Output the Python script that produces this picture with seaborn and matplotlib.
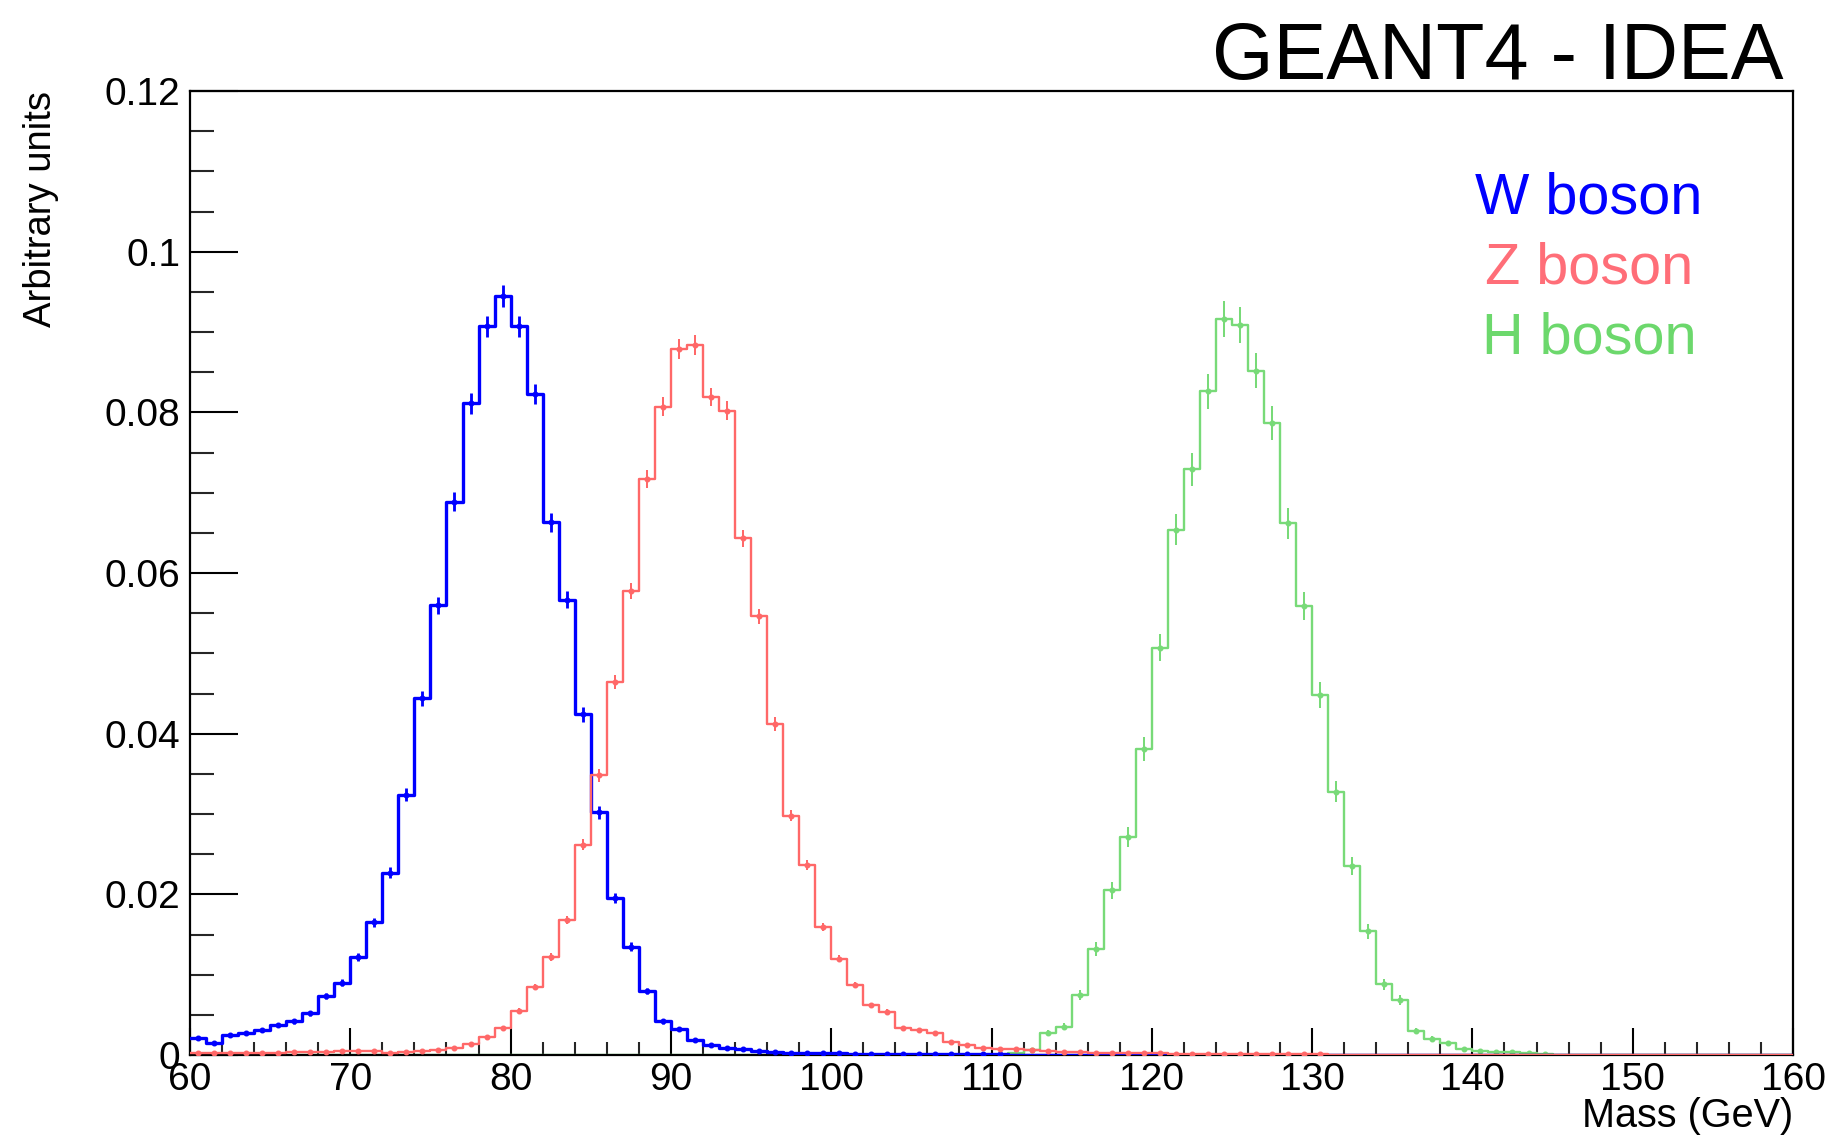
import numpy as np
import pandas as pd
import matplotlib
matplotlib.use("Agg")
import matplotlib.pyplot as plt
import seaborn as sns
from matplotlib.ticker import MultipleLocator, FixedLocator, FixedFormatter

# ---------------- data (1 GeV bins, lower edges 60..159) ----------------
BIN_LOW = list(range(60, 160))

W_VALUES = [0.0021, 0.0015, 0.0025, 0.0027, 0.0031, 0.0037, 0.0042, 0.0052, 0.0073, 0.0090,
            0.0122, 0.0165, 0.0227, 0.0324, 0.0444, 0.0560, 0.0689, 0.0811, 0.0907, 0.0945,
            0.0907, 0.0823, 0.0663, 0.0567, 0.0424, 0.0302, 0.0195, 0.0135, 0.0080, 0.0042,
            0.0032, 0.0019, 0.0012, 0.0009, 0.0007, 0.0005, 0.0004, 0.0003, 0.0003, 0.0002,
            0.0002, 0.0001, 0.0001, 0.0001, 0.0001, 0.0001, 0.0001, 0.0001, 0.0001, 0.0001,
            0.0001, 0, 0, 0, 0, 0, 0, 0, 0, 0,
            0, 0, 0, 0, 0, 0, 0, 0, 0, 0,
            0, 0, 0, 0, 0, 0, 0, 0, 0, 0,
            0, 0, 0, 0, 0, 0, 0, 0, 0, 0,
            0, 0, 0, 0, 0, 0, 0, 0, 0, 0]

Z_VALUES = [0.0003, 0.0003, 0.0003, 0.0003, 0.0003, 0.0003, 0.0004, 0.0004, 0.0004, 0.0005,
            0.0005, 0.0005, 0.0003, 0.0004, 0.0005, 0.0006, 0.0009, 0.0014, 0.0022, 0.0033,
            0.0055, 0.0085, 0.0122, 0.0168, 0.0262, 0.0348, 0.0464, 0.0578, 0.0717, 0.0807,
            0.0879, 0.0884, 0.0819, 0.0802, 0.0643, 0.0546, 0.0412, 0.0298, 0.0237, 0.0159,
            0.0120, 0.0087, 0.0062, 0.0054, 0.0034, 0.0031, 0.0027, 0.0016, 0.0012, 0.0009,
            0.0008, 0.0007, 0.0006, 0.0005, 0.0004, 0.0004, 0.0003, 0.0003, 0.0002, 0.0002,
            0.0002, 0.0001, 0.0001, 0.0001, 0.0001, 0.0001, 0.0001, 0.0001, 0.0001, 0.0001,
            0.0001, 0, 0, 0, 0, 0, 0, 0, 0, 0,
            0, 0, 0, 0, 0, 0, 0, 0, 0, 0,
            0, 0, 0, 0, 0, 0, 0, 0, 0, 0]

H_VALUES = [0, 0, 0, 0, 0, 0, 0, 0, 0, 0,
            0, 0, 0, 0, 0, 0, 0, 0, 0, 0,
            0, 0, 0, 0, 0, 0, 0, 0, 0, 0,
            0, 0, 0, 0, 0, 0, 0, 0, 0, 0,
            0, 0, 0, 0, 0, 0, 0, 0, 0, 0,
            0, 0.0003, 0.0006, 0.0027, 0.0035, 0.0075, 0.0132, 0.0205, 0.0271, 0.0381,
            0.0507, 0.0654, 0.0729, 0.0826, 0.0916, 0.0909, 0.0852, 0.0787, 0.0662, 0.0559,
            0.0448, 0.0328, 0.0235, 0.0154, 0.0088, 0.0068, 0.0030, 0.0020, 0.0015, 0.0007,
            0.0005, 0.0004, 0.0004, 0.0002, 0.0001, 0, 0, 0, 0, 0,
            0, 0, 0, 0, 0, 0, 0, 0, 0, 0]

# effective event counts (sets the size of the Poisson error bars)
N_EVENTS = {"W boson": 50000, "Z boson": 60000, "H boson": 18000}

LABELS = ["W boson", "Z boson", "H boson"]
XTICKS = [60, 70, 80, 90, 100, 110, 120, 130, 140, 150, 160]
YTICKS = [0, 0.02, 0.04, 0.06, 0.08, 0.10, 0.12]
YTICK_LABELS = ["0", "0.02", "0.04", "0.06", "0.08", "0.1", "0.12"]

# ---------------- figure ----------------
sns.set_theme(style="white")
plt.rcParams["font.family"] = ["Liberation Sans", "DejaVu Sans"]

W_PX, H_PX = 1832, 1138
fig = plt.figure(figsize=(W_PX / 100, H_PX / 100), dpi=100)
ax = fig.add_axes([190 / W_PX, 1 - 1055 / H_PX, (1793 - 190) / W_PX, (1055 - 91) / H_PX])

centers = np.array(BIN_LOW, dtype=float) + 0.5

series = {"W boson": W_VALUES, "Z boson": Z_VALUES, "H boson": H_VALUES}
line_colors = {"W boson": "#0000ff", "Z boson": "#ff6868", "H boson": "#78da78"}
line_widths = {"W boson": 2.4, "Z boson": 1.7, "H boson": 1.7}
text_colors = {"W boson": "#0000ff", "Z boson": "#ff6e78", "H boson": "#6cd86c"}
zorders = {"W boson": 3, "Z boson": 4, "H boson": 2}

for name in LABELS:
    vals = np.array(series[name], dtype=float)
    df = pd.DataFrame({"mass": centers, "weight": vals})
    sns.histplot(data=df, x="mass", weights="weight", binwidth=1, binrange=(60, 160),
                 element="step", fill=False, color=line_colors[name],
                 linewidth=line_widths[name], ax=ax, zorder=zorders[name])
    mask = vals > 0
    err = np.sqrt(vals[mask] / N_EVENTS[name])
    ax.errorbar(centers[mask], vals[mask], yerr=err, fmt="o", ms=3.3,
                color=line_colors[name], ecolor=line_colors[name],
                elinewidth=line_widths[name] * 0.85, capsize=0, zorder=zorders[name])

ax.set_xlim(60, 160)
ax.set_ylim(0, 0.12)
ax.set_xlabel("")
ax.set_ylabel("")

ax.xaxis.set_major_locator(FixedLocator(XTICKS))
ax.xaxis.set_major_formatter(FixedFormatter([str(t) for t in XTICKS]))
ax.xaxis.set_minor_locator(MultipleLocator(2))
ax.yaxis.set_major_locator(FixedLocator(YTICKS))
ax.yaxis.set_major_formatter(FixedFormatter(YTICK_LABELS))
ax.yaxis.set_minor_locator(MultipleLocator(0.005))

ax.tick_params(axis="x", which="major", direction="in", length=19.5, width=1.5,
               labelsize=28, pad=5, colors="black", bottom=True, top=False)
ax.tick_params(axis="x", which="minor", direction="in", length=9.5, width=1.5,
               bottom=True, top=False)
ax.tick_params(axis="y", which="major", direction="in", length=34.5, width=1.5,
               labelsize=28, pad=7, colors="black", left=True, right=False)
ax.tick_params(axis="y", which="minor", direction="in", length=17, width=1.5,
               left=True, right=False)

for sp in ax.spines.values():
    sp.set_visible(True)
    sp.set_color("black")
    sp.set_linewidth(1.6)

# title
fig.text(1784 / W_PX, 1 - 79 / H_PX, "GEANT4 - IDEA", ha="right", va="baseline",
         fontsize=57, color="black")

# legend-like labels
for name, yb in zip(LABELS, [213, 284, 354]):
    fig.text(1589 / W_PX, 1 - yb / H_PX, name, ha="center", va="baseline",
             fontsize=41.5, color=text_colors[name])

# axis titles
fig.text(41 / W_PX, 1 - 91 / H_PX, "Arbitrary units", rotation=90, ha="center", va="top",
         fontsize=27.5, color="black")
fig.text(1793 / W_PX, 1 - 1127 / H_PX, "Mass (GeV)", ha="right", va="baseline",
         fontsize=28.5, color="black")

fig.savefig("out.png", dpi=100, facecolor="white")
